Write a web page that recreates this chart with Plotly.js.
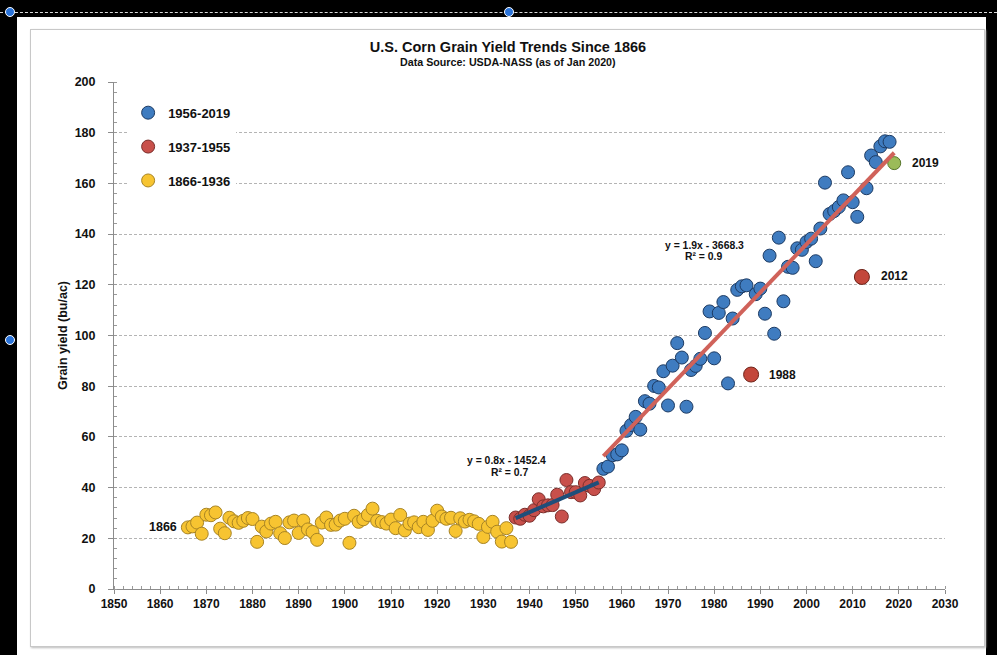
<!DOCTYPE html>
<html>
<head>
<meta charset="utf-8">
<script src="https://cdn.plot.ly/plotly-3.0.1.min.js"></script>
<style>
  html, body { margin:0; padding:0; width:997px; height:655px; overflow:hidden; background:#ffffff; }
  .blk { position:absolute; background:#000; }
  #dash { position:absolute; left:0; top:12px; width:997px; height:0; border-top:1px dashed #d8d8d8; }
  .handle { position:absolute; width:8px; height:8px; border-radius:50%; background:#2a73d9; border:1px solid #ffffff; }
  #box { position:absolute; left:30px; top:29px; width:953px; height:616px; border:1px solid #c8c8c8; box-shadow:1px 1px 2px #bbb; }
  #chart { position:absolute; left:0; top:0; width:997px; height:655px; }
</style>
</head>
<body>
<div class="blk" style="left:0;top:0;width:997px;height:17px;"></div>
<div class="blk" style="left:0;top:0;width:17px;height:655px;"></div>
<div class="blk" style="left:986px;top:0;width:11px;height:655px;"></div>
<div id="dash"></div>
<div class="handle" style="left:5px;top:7px;"></div>
<div class="handle" style="left:504px;top:7px;"></div>
<div class="handle" style="left:5px;top:335px;"></div>
<div id="box"></div>
<div id="chart"></div>
<script>
// ---- Data (bu/ac) ----
const yearsEarly = [1866,1867,1868,1869,1870,1871,1872,1873,1874,1875,1876,1877,1878,1879,1880,
  1881,1882,1883,1884,1885,1886,1887,1888,1889,1890,1891,1892,1893,1894,1895,1896,1897,1898,1899,1900,
  1901,1902,1903,1904,1905,1906,1907,1908,1909,1910,1911,1912,1913,1914,1915,1916,1917,1918,1919,1920,
  1921,1922,1923,1924,1925,1926,1927,1928,1929,1930,1931,1932,1933,1934,1935,1936];
const yieldsEarly = [24.3,24.7,26.2,21.8,29.3,29.1,30.2,23.8,22.0,28.1,26.7,26.1,26.9,28.0,27.6,
  18.6,24.6,22.7,25.8,26.5,22.0,20.1,26.3,27.0,22.1,27.0,23.5,22.5,19.4,26.2,28.2,25.3,25.4,27.0,27.7,
  18.2,28.9,26.5,27.5,29.2,31.7,26.9,26.4,25.8,27.4,24.0,29.2,23.1,25.8,26.3,24.4,26.5,23.3,26.9,30.9,
  28.6,27.7,28.1,22.9,27.9,26.6,27.3,26.7,25.7,20.5,24.5,26.5,22.6,18.7,24.0,18.6];

const yearsMid = [1937,1938,1939,1940,1941,1942,1943,1944,1945,1946,1947,1948,1949,1950,1951,1952,1953,1954,1955];
const yieldsMid = [28.2,27.7,29.3,28.9,31.1,35.4,32.6,33.0,33.1,37.2,28.6,43.0,38.2,38.2,36.9,41.8,40.7,39.4,42.0];

const yearsModern = [1956,1957,1958,1959,1960,1961,1962,1963,1964,1965,1966,1967,1968,1969,1970,1971,1972,1973,
  1974,1975,1976,1977,1978,1979,1980,1981,1982,1983,1984,1985,1986,1987,1988,1989,1990,1991,1992,1993,1994,1995,
  1996,1997,1998,1999,2000,2001,2002,2003,2004,2005,2006,2007,2008,2009,2010,2011,2012,2013,2014,2015,2016,2017,
  2018,2019];
const yieldsModern = [47.4,48.3,52.8,53.1,54.7,62.4,64.7,67.9,62.9,74.1,73.1,80.1,79.5,85.9,72.4,88.1,97.0,91.3,
  71.9,86.4,88.0,90.8,101.0,109.5,91.0,108.9,113.2,81.1,106.7,118.0,119.4,119.8,84.6,116.3,118.5,108.6,131.5,100.7,
  138.6,113.5,127.1,126.7,134.4,133.8,136.9,138.2,129.3,142.2,160.3,147.9,149.1,150.7,153.3,164.4,152.6,146.8,
  123.1,158.1,171.0,168.4,174.6,176.6,176.4,168.0];

const droughtYears = [1988, 2012];
const latestYears = [2019];

const legendNames = ['1956-2019', '1937-1955', '1866-1936'];
const equationTexts = ['y = 0.8x - 1452.4', 'R² = 0.7', 'y = 1.9x - 3668.3', 'R² = 0.9'];

// ---- helpers ----
function fit(xs, ys) {
  const n = xs.length;
  const mx = xs.reduce((a,b)=>a+b,0)/n, my = ys.reduce((a,b)=>a+b,0)/n;
  let sxy = 0, sxx = 0;
  for (let i=0;i<n;i++){ sxy += (xs[i]-mx)*(ys[i]-my); sxx += (xs[i]-mx)*(xs[i]-mx); }
  const b = sxy/sxx, a = my - b*mx;
  const x0 = Math.min(...xs), x1 = Math.max(...xs);
  return {x:[x0,x1], y:[a+b*x0, a+b*x1]};
}
function pick(years, vals, keep) {
  const xs=[], ys=[];
  years.forEach((y,i)=>{ if (keep(y)) { xs.push(y); ys.push(vals[i]); } });
  return {x:xs, y:ys};
}

const FONT = 'Liberation Sans, Arial, Helvetica, sans-serif';
const special = y => droughtYears.includes(y) || latestYears.includes(y);
const blue = pick(yearsModern, yieldsModern, y => !special(y));
const drought = pick(yearsModern, yieldsModern, y => droughtYears.includes(y));
const latest = pick(yearsModern, yieldsModern, y => latestYears.includes(y));
const fitMid = fit(yearsMid, yieldsMid);
const fitModern = fit(yearsModern, yieldsModern);

const traces = [
  {type:'scatter', mode:'markers', name:legendNames[0], legendgroup:'a', x:blue.x, y:blue.y,
   marker:{size:13, color:'#3f7cc0', line:{color:'#1d3b63', width:1}}},
  {type:'scatter', mode:'markers', name:legendNames[1], legendgroup:'b', x:yearsMid, y:yieldsMid,
   marker:{size:13, color:'#c8504b', line:{color:'#7a2e2b', width:1}}},
  {type:'scatter', mode:'markers', name:legendNames[2], legendgroup:'c', x:yearsEarly, y:yieldsEarly,
   marker:{size:13, color:'#f7c431', line:{color:'#a88424', width:1}}},
  {type:'scatter', mode:'markers', showlegend:false, x:drought.x, y:drought.y,
   marker:{size:15, color:'#c3473b', line:{color:'#6e2218', width:1}}},
  {type:'scatter', mode:'markers', showlegend:false, x:latest.x, y:latest.y,
   marker:{size:13, color:'#9bbb59', line:{color:'#56752a', width:1}}},
  {type:'scatter', mode:'lines', showlegend:false, x:fitMid.x, y:fitMid.y,
   line:{color:'#1f4e7a', width:4}},
  {type:'scatter', mode:'lines', showlegend:false, x:fitModern.x, y:fitModern.y,
   line:{color:'#d0625a', width:4}}
];

const annFont = s => ({family:FONT, size:s, color:'#111', weight:700});
const layout = {
  width:997, height:655,
  margin:{l:114, r:52, t:82, b:66},
  paper_bgcolor:'rgba(0,0,0,0)', plot_bgcolor:'rgba(0,0,0,0)',
  font:{family:FONT, color:'#111'},
  title:{text:'U.S. Corn Grain Yield Trends Since 1866', font:{family:FONT, size:14.5, weight:700, color:'#111'},
    x:0.5095, xref:'container', xanchor:'center', y:1-47/655, yref:'container', yanchor:'middle'},
  xaxis:{range:[1850,2030], dtick:10, tick0:1850, showgrid:false, zeroline:false,
    showline:true, linecolor:'#8c8c8c', linewidth:1,
    ticks:'outside', ticklen:4, tickcolor:'#8c8c8c',
    minor:{dtick:2, ticks:'inside', ticklen:3, tickcolor:'#9a9a9a'},
    tickfont:{family:FONT, size:12, weight:700, color:'#111'}},
  yaxis:{range:[0,200], dtick:20, showgrid:true, gridcolor:'#b4b4b4', griddash:'3px,2px', gridwidth:1,
    zeroline:false, showline:true, linecolor:'#8c8c8c', linewidth:1,
    ticks:'outside', ticklen:5, tickcolor:'#8c8c8c', ticklabelstandoff:10,
    minor:{dtick:4, ticks:'inside', ticklen:3, tickcolor:'#9a9a9a', showgrid:false},
    tickfont:{family:FONT, size:12.5, weight:700, color:'#111'},
    title:{text:'Grain yield (bu/ac)', font:{family:FONT, size:12.5, weight:700, color:'#111'}, standoff:4}},
  showlegend:true,
  legend:{x:0.017, xanchor:'left', y:0.969, yanchor:'top', bgcolor:'#ffffff', borderwidth:0,
    traceorder:'grouped', tracegroupgap:14, itemsizing:'trace', itemwidth:30,
    font:{family:FONT, size:13, weight:700, color:'#111'}},
  annotations:[
    {xref:'paper', yref:'paper', x:0.474, y:(589-62)/507, text:'Data Source: USDA-NASS (as of Jan 2020)',
     showarrow:false, font:annFont(10.7), xanchor:'center', yanchor:'middle'},
    {x:1864.0, y:24.5, text:'1866', showarrow:false, xanchor:'right', yanchor:'middle', font:annFont(12.5)},
    {x:1935.1, y:50.5, text:equationTexts[0], showarrow:false, xanchor:'center', yanchor:'middle', font:annFont(10.4)},
    {x:1935.6, y:46.0, text:equationTexts[1], showarrow:false, xanchor:'center', yanchor:'middle', font:annFont(10.4)},
    {x:1978.0, y:135.7, text:equationTexts[2], showarrow:false, xanchor:'center', yanchor:'middle', font:annFont(10.4)},
    {x:1977.7, y:131.0, text:equationTexts[3], showarrow:false, xanchor:'center', yanchor:'middle', font:annFont(10.4)},
    {x:1991.4, y:84.4, text:String(droughtYears[0]), showarrow:false, xanchor:'left', yanchor:'middle', font:annFont(12)},
    {x:2015.7, y:123.5, text:String(droughtYears[1]), showarrow:false, xanchor:'left', yanchor:'middle', font:annFont(12)},
    {x:2022.4, y:168.0, text:String(latestYears[0]), showarrow:false, xanchor:'left', yanchor:'middle', font:annFont(12)}
  ]
};

Plotly.newPlot('chart', traces, layout, {displayModeBar:false, staticPlot:true});
</script>
</body>
</html>
